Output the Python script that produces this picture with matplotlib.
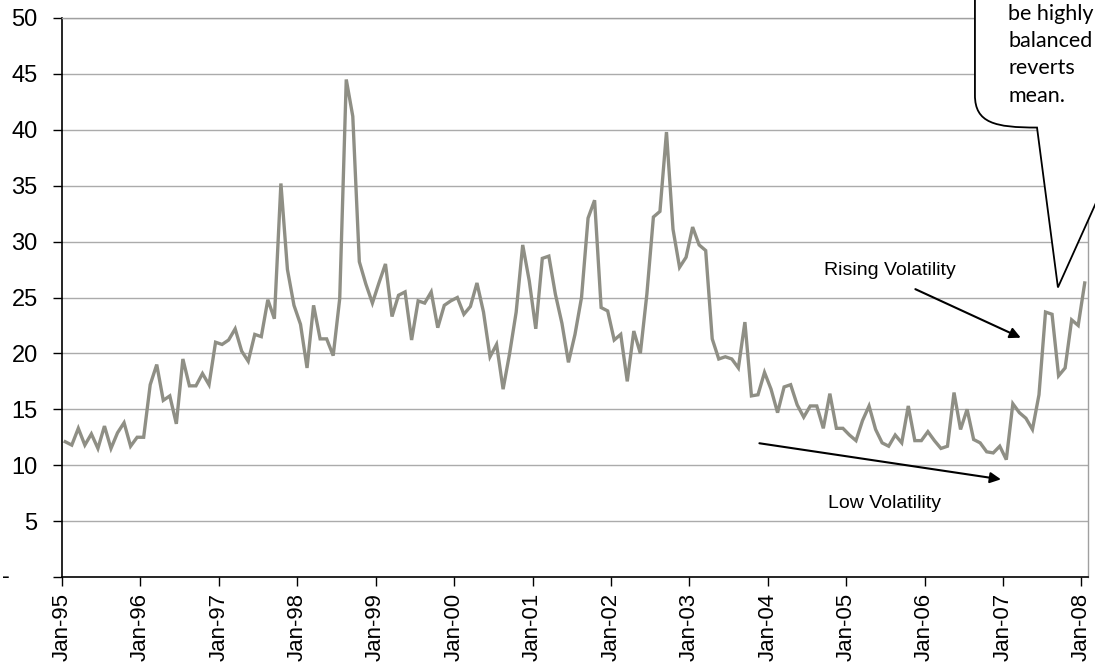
import numpy as np
import matplotlib
matplotlib.use('Agg')
import matplotlib.pyplot as plt
from matplotlib.path import Path
from matplotlib.patches import PathPatch
from matplotlib import transforms

# monthly values, Jan-95 .. Jan-08
vol_1995 = [12.1, 11.8, 13.3, 11.8, 12.8, 11.5, 13.5, 11.5, 12.9, 13.8, 11.7, 12.5]
vol_1996 = [12.5, 17.2, 19.0, 15.8, 16.2, 13.7, 19.5, 17.1, 17.1, 18.2, 17.2, 21.0]
vol_1997 = [20.8, 21.2, 22.2, 20.2, 19.3, 21.7, 21.5, 24.8, 23.1, 35.2, 27.5, 24.3]
vol_1998 = [22.6, 18.7, 24.3, 21.3, 21.3, 19.8, 24.9, 44.5, 41.2, 28.2, 26.2, 24.5]
vol_1999 = [26.3, 28.0, 23.3, 25.2, 25.5, 21.2, 24.7, 24.5, 25.5, 22.3, 24.3, 24.7]
vol_2000 = [25.0, 23.5, 24.2, 26.3, 23.7, 19.7, 20.8, 16.8, 20.0, 23.7, 29.7, 26.5]
vol_2001 = [22.2, 28.5, 28.7, 25.3, 22.7, 19.2, 21.7, 25.0, 32.1, 33.7, 24.1, 23.8]
vol_2002 = [21.2, 21.7, 17.5, 22.0, 20.0, 25.3, 32.2, 32.7, 39.8, 31.1, 27.7, 28.6]
vol_2003 = [31.3, 29.7, 29.2, 21.3, 19.5, 19.7, 19.5, 18.7, 22.8, 16.2, 16.3, 18.3]
vol_2004 = [16.8, 14.7, 17.0, 17.2, 15.4, 14.3, 15.3, 15.3, 13.3, 16.4, 13.3, 13.3]
vol_2005 = [12.7, 12.2, 14.0, 15.3, 13.2, 12.0, 11.7, 12.7, 12.0, 15.3, 12.2, 12.2]
vol_2006 = [13.0, 12.2, 11.5, 11.7, 16.5, 13.2, 15.0, 12.3, 12.0, 11.2, 11.1, 11.7]
vol_2007 = [10.5, 15.5, 14.7, 14.2, 13.2, 16.3, 23.7, 23.5, 18.0, 18.7, 23.0, 22.5]
vol_2008 = [26.3]

year_labels = ['Jan-95', 'Jan-96', 'Jan-97', 'Jan-98', 'Jan-99', 'Jan-00', 'Jan-01',
               'Jan-02', 'Jan-03', 'Jan-04', 'Jan-05', 'Jan-06', 'Jan-07', 'Jan-08']
y_ticks = [0, 5, 10, 15, 20, 25, 30, 35, 40, 45, 50]
callout_lines = ['be highly', 'balanced', 'reverts', 'mean.']

values = np.array(vol_1995 + vol_1996 + vol_1997 + vol_1998 + vol_1999 + vol_2000 +
                  vol_2001 + vol_2002 + vol_2003 + vol_2004 + vol_2005 + vol_2006 +
                  vol_2007 + vol_2008)
months = np.arange(len(values))

plt.rcParams['font.family'] = ['Liberation Sans', 'DejaVu Sans']

fig = plt.figure(figsize=(10.95, 6.66), dpi=100)
ax = fig.add_axes([0.0566, 0.1336, 0.9370, 0.8394])

for y in y_ticks[1:]:
    ax.axhline(y, color='#ababab', lw=1.0, zorder=1)

ax.plot(months, values, color='#8f8f85', lw=2.4, zorder=3, solid_joinstyle='miter')

ax.set_xlim(-0.5, len(values) - 0.5)
ax.set_ylim(0, 50)
ax.set_xticks(np.arange(len(year_labels)) * 12 - 0.5)
ax.set_xticklabels(year_labels, rotation=90, fontsize=16)
ax.set_yticks(y_ticks)
ax.set_yticklabels([''] + [str(v) for v in y_ticks[1:]], fontsize=17)
ax.tick_params(axis='both', direction='out', length=6.5, width=1, color='black')
ax.tick_params(axis='x', pad=5)
ax.tick_params(axis='y', pad=11)

# zero shown as a dash, as in the accounting number format
ax.text(-0.058, 0, '-', transform=transforms.blended_transform_factory(ax.transAxes, ax.transData),
        ha='left', va='center', fontsize=17)

for side in ['left', 'bottom']:
    ax.spines[side].set_color('black')
    ax.spines[side].set_linewidth(1.2)
for side in ['top', 'right']:
    ax.spines[side].set_color('#a0a0a0')
    ax.spines[side].set_linewidth(1.0)

# annotations
ax.text(126.2, 27.4, 'Rising Volatility', fontsize=14, ha='center', va='center')
ax.annotate('', xy=(146.6, 21.3), xytext=(129.7, 25.85),
            arrowprops=dict(arrowstyle='-|>', color='black', lw=1.5, mutation_scale=16))
ax.text(125.3, 6.6, 'Low Volatility', fontsize=14, ha='center', va='center')
ax.annotate('', xy=(143.6, 8.7), xytext=(105.8, 12.0),
            arrowprops=dict(arrowstyle='-|>', color='black', lw=1.5, mutation_scale=16))

# callout box, cut off by the top and right edges of the picture
verts = [(139.2, 56.0), (139.2, 43.1), (139.2, 40.6), (142.3, 40.2), (148.7, 40.2),
         (151.9, 25.9), (162.9, 40.2), (175.0, 40.2), (175.0, 56.0), (139.2, 56.0)]
codes = [Path.MOVETO, Path.LINETO, Path.CURVE4, Path.CURVE4, Path.CURVE4,
         Path.LINETO, Path.LINETO, Path.LINETO, Path.LINETO, Path.CLOSEPOLY]
callout = PathPatch(Path(verts, codes), facecolor='white', edgecolor='black', lw=1.3,
                    clip_on=False, zorder=5)
ax.add_patch(callout)
for k, line in enumerate(callout_lines):
    ax.text(144.3, 50.4 - 2.45 * k, line, fontsize=15.5, family=['Lato', 'DejaVu Sans'],
            ha='left', va='center', zorder=6, clip_on=False)

fig.savefig('out.png', dpi=100)
